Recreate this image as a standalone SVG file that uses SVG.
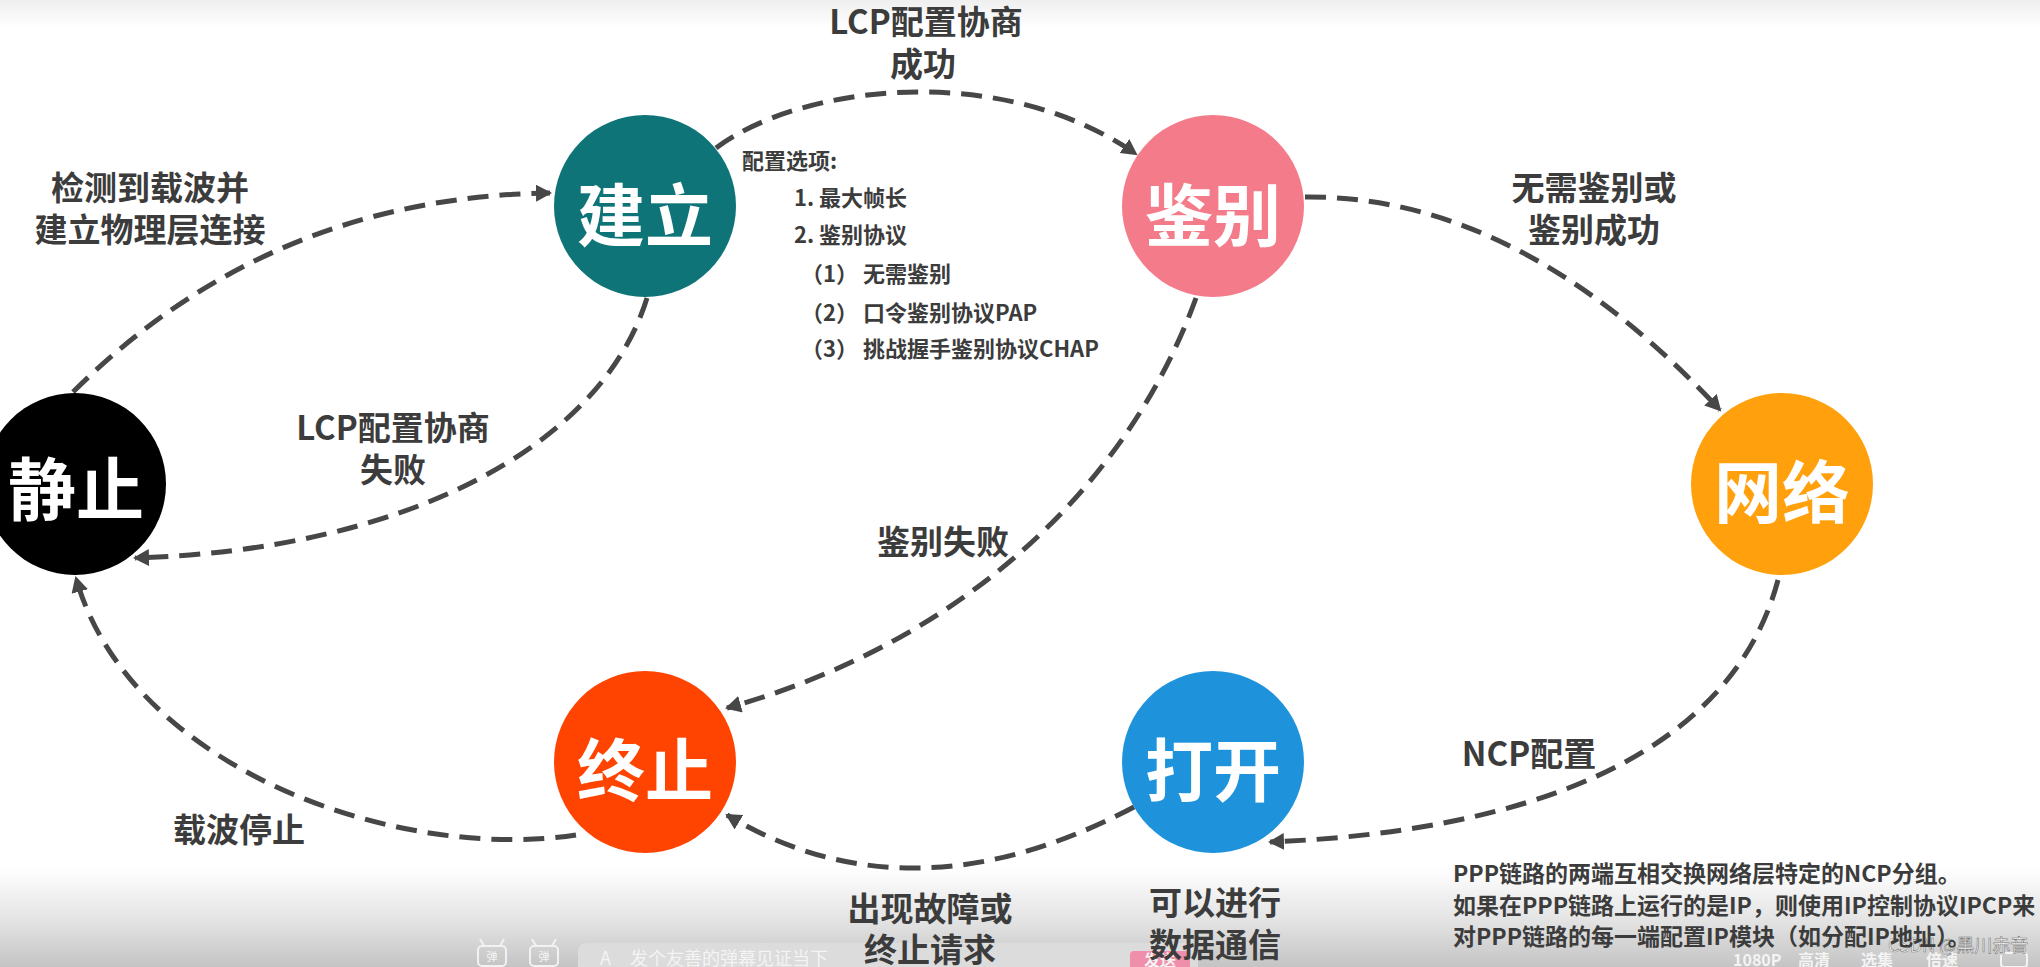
<svg xmlns="http://www.w3.org/2000/svg" width="2040" height="967" viewBox="0 0 2040 967">
<defs>
<linearGradient id="topg" x1="0" y1="0" x2="0" y2="1">
<stop offset="0" stop-color="#efefef"/>
<stop offset="1" stop-color="#ffffff"/>
</linearGradient>
<linearGradient id="botg" x1="0" y1="0" x2="0" y2="1">
<stop offset="0" stop-color="#ffffff"/>
<stop offset="0.55" stop-color="#e2e2e2"/>
<stop offset="1" stop-color="#c4c4c4"/>
</linearGradient>
<marker id="arr" markerWidth="17" markerHeight="17" refX="14" refY="8.5" orient="auto" markerUnits="userSpaceOnUse">
<path d="M0,0 L16,8.5 L0,17 Z" fill="#474747"/>
</marker>
<style>
.node text{font-family:"Noto Sans CJK SC","Noto Sans",sans-serif;font-weight:700;font-size:68px;fill:#ffffff;text-anchor:middle;dominant-baseline:central}
.lbl{font-family:"Noto Sans CJK SC","Noto Sans",sans-serif;font-weight:700;font-size:33px;fill:#3c3c3c;text-anchor:middle;dominant-baseline:central}
.opt{font-family:"Noto Sans CJK SC","Noto Sans",sans-serif;font-weight:700;font-size:22px;fill:#3c3c3c;dominant-baseline:central}
.par{font-family:"Noto Sans CJK SC","Noto Sans",sans-serif;font-weight:700;font-size:23px;fill:#3c3c3c;dominant-baseline:central}
.conn path{fill:none;stroke:#474747;stroke-width:5;stroke-dasharray:21 11;marker-end:url(#arr)}
.ui{font-family:"Noto Sans CJK SC","Noto Sans",sans-serif;fill:#f4f4f4}
</style>
</defs>
<rect x="0" y="0" width="2040" height="967" fill="#ffffff"/>
<rect x="0" y="0" width="2040" height="28" fill="url(#topg)"/>
<rect x="0" y="868" width="2040" height="99" fill="url(#botg)"/>
<g id="player-ui">
<rect x="578" y="943" width="620" height="40" rx="8" fill="#dcdcdc"/>
<rect x="1130" y="951" width="60" height="30" rx="4" fill="#ef8fab"/>
<text class="ui" x="1160" y="959" font-size="16" font-weight="700" text-anchor="middle" dominant-baseline="central">发送</text>
<text class="ui" x="600" y="957" font-size="18" dominant-baseline="central">A</text>
<text class="ui" x="630" y="957" font-size="18" dominant-baseline="central">发个友善的弹幕见证当下</text>
<g fill="none" stroke="#f2f2f2" stroke-width="2">
<rect x="478" y="946" width="28" height="20" rx="4"/>
<path d="M484,946 L480,939 M500,946 L504,939"/>
<rect x="530" y="946" width="28" height="20" rx="4"/>
<path d="M536,946 L532,939 M552,946 L556,939"/>
</g>
<text class="ui" x="492" y="956" font-size="11" text-anchor="middle" dominant-baseline="central">弹</text>
<text class="ui" x="544" y="956" font-size="11" text-anchor="middle" dominant-baseline="central">弹</text>
<text class="ui" x="1733" y="966" font-size="16" font-weight="700">1080P</text>
<text class="ui" x="1798" y="966" font-size="16" font-weight="700">高清</text>
<text class="ui" x="1861" y="966" font-size="16" font-weight="700">选集</text>
<text class="ui" x="1926" y="966" font-size="16" font-weight="700">倍速</text>
<rect x="2001" y="953" width="26" height="14" rx="3" fill="none" stroke="#f4f4f4" stroke-width="2"/>
<text x="1888" y="944" font-family="&quot;Noto Sans CJK SC&quot;,&quot;Noto Sans&quot;,sans-serif" font-size="18" fill="#ffffff" stroke="#777777" stroke-width="0.6" dominant-baseline="central">CSDN @黑川赤音</text>
</g>
<g class="conn" id="connectors">
<path d="M73,392 Q269,197 550,193"/>
<path d="M716,148 C800,85 1000,60 1136,154"/>
<path d="M1305,197 Q1520,195 1720,410"/>
<path d="M1778,580 C1730,760 1520,832 1270,842"/>
<path d="M1134,807 Q910,925 727,815"/>
<path d="M576,835 C400,862 130,770 76,578"/>
<path d="M647,298 C600,450 400,550 135,558"/>
<path d="M1196,298 C1130,480 970,640 727,708"/>
</g>
<g id="node-jianli" class="node">
<circle cx="645" cy="206" r="91" fill="#0f7478"/>
<text x="645" y="211">建立</text>
</g>
<g id="node-jianbie" class="node">
<circle cx="1213" cy="206" r="91" fill="#f47b89"/>
<text x="1213" y="211">鉴别</text>
</g>
<g id="node-wangluo" class="node">
<circle cx="1782" cy="484" r="91" fill="#ffa00c"/>
<text x="1782" y="488">网络</text>
</g>
<g id="node-dakai" class="node">
<circle cx="1213" cy="762" r="91" fill="#1e93dc"/>
<text x="1213" y="766">打开</text>
</g>
<g id="node-zhongzhi" class="node">
<circle cx="645" cy="762" r="91" fill="#ff4300"/>
<text x="645" y="766">终止</text>
</g>
<g id="node-jingzhi" class="node">
<circle cx="75" cy="484" r="91" fill="#000000"/>
<text x="76" y="485">静止</text>
</g>
<g id="labels">
<text class="lbl" x="926" y="20">LCP配置协商</text>
<text class="lbl" x="923" y="62">成功</text>
<text class="lbl" x="150" y="186">检测到载波并</text>
<text class="lbl" x="150" y="228">建立物理层连接</text>
<text class="lbl" x="1594" y="186">无需鉴别或</text>
<text class="lbl" x="1594" y="228">鉴别成功</text>
<text class="lbl" x="393" y="426">LCP配置协商</text>
<text class="lbl" x="393" y="468">失败</text>
<text class="lbl" x="943" y="540">鉴别失败</text>
<text class="lbl" x="239" y="828">载波停止</text>
<text class="lbl" x="930" y="907">出现故障或</text>
<text class="lbl" x="930" y="948">终止请求</text>
<text class="lbl" x="1529" y="752">NCP配置</text>
<text class="lbl" x="1215" y="901">可以进行</text>
<text class="lbl" x="1215" y="943">数据通信</text>
</g>
<g id="options">
<text class="opt" x="742" y="159">配置选项:</text>
<text class="opt" x="794" y="196">1. 最大帧长</text>
<text class="opt" x="794" y="233">2. 鉴别协议</text>
<text class="opt" x="801" y="272">（1） 无需鉴别</text>
<text class="opt" x="801" y="311">（2） 口令鉴别协议PAP</text>
<text class="opt" x="801" y="347">（3） 挑战握手鉴别协议CHAP</text>
</g>
<g id="ncp-note">
<text class="par" x="1453" y="872">PPP链路的两端互相交换网络层特定的NCP分组。</text>
<text class="par" x="1453" y="904">如果在PPP链路上运行的是IP，则使用IP控制协议IPCP来</text>
<text class="par" x="1453" y="935">对PPP链路的每一端配置IP模块（如分配IP地址）。</text>
</g>
</svg>
